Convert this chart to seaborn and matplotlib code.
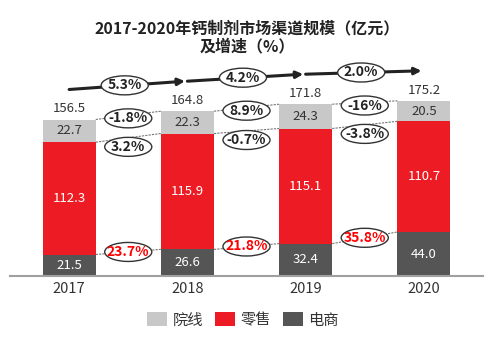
import matplotlib
matplotlib.use("Agg")
import matplotlib.pyplot as plt
from matplotlib.patches import Ellipse, Patch
import seaborn as sns
import pandas as pd

years = ['2017', '2018', '2019', '2020']
dianshang = [21.5, 26.6, 32.4, 44.0]     # 电商
lingshou = [112.3, 115.9, 115.1, 110.7]  # 零售
yuanxian = [22.7, 22.3, 24.3, 20.5]      # 院线
totals = [156.5, 164.8, 171.8, 175.2]
g_yuanxian = ['-1.8%', '8.9%', '-16%']
g_lingshou = ['3.2%', '-0.7%', '-3.8%']
g_dianshang = ['23.7%', '21.8%', '35.8%']
g_total = ['5.3%', '4.2%', '2.0%']
legend_labels = ['院线', '零售', '电商']
title = '2017-2020年钙制剂市场渠道规模（亿元）\n及增速（%）'

C_LIGHT = '#C8C8C8'
C_RED = '#ED1C24'
C_DARK = '#555555'
TXT = '#333333'

sns.set_theme(style='white')
plt.rcParams['font.family'] = ['Noto Sans CJK SC', 'DejaVu Sans']

fig = plt.figure(figsize=(5.0, 3.44), dpi=100)
ax = fig.add_axes([10/500, 1-276/344, 473/500, 210/344])

df = pd.DataFrame({'year': years, 'ds': dianshang, 'ls': lingshou, 'yx': yuanxian, 'tot': totals})
df['ds_ls'] = df['ds'] + df['ls']
df['top'] = df['ds_ls'] + df['yx']

BW = 0.45
sns.barplot(data=df, x='year', y='top', color=C_LIGHT, width=BW, saturation=1, ax=ax, linewidth=0)
sns.barplot(data=df, x='year', y='ds_ls', color=C_RED, width=BW, saturation=1, ax=ax, linewidth=0)
sns.barplot(data=df, x='year', y='ds', color=C_DARK, width=BW, saturation=1, ax=ax, linewidth=0)

ax.set_xlim(-0.5, 3.5)
ax.set_ylim(0, 210)
ax.set_xlabel('')
ax.set_ylabel('')
ax.set_yticks([])
ax.tick_params(axis='x', length=0, labelsize=10.5, labelcolor=TXT, pad=4)
for s in ['top', 'right', 'left']:
    ax.spines[s].set_visible(False)
ax.spines['bottom'].set_color('#A0A0A0')
ax.spines['bottom'].set_linewidth(1.5)

# segment labels
for i in range(len(years)):
    ds, ls, yx = dianshang[i], lingshou[i], yuanxian[i]
    ax.text(i, ds/2, f'{ds:.1f}', ha='center', va='center', color='white', fontsize=9.5)
    ax.text(i, ds + ls/2, f'{ls:.1f}', ha='center', va='center', color='white', fontsize=9.5)
    ax.text(i, ds + ls + yx/2, f'{yx:.1f}', ha='center', va='center', color=TXT, fontsize=9.5)
    ax.text(i, totals[i] + 4, f'{totals[i]:.1f}', ha='center', va='bottom', color=TXT, fontsize=9.5)

tops = {
    'yx': list(df['top']),
    'ls': list(df['ds_ls']),
    'ds': list(df['ds']),
}
EW = 47/118
EH = 19

def ellipse_label(x, y, s, color='#222222'):
    e = Ellipse((x, y), EW, EH, facecolor='white', edgecolor='#333333', lw=1.0, zorder=5, clip_on=False)
    ax.add_patch(e)
    ax.text(x, y, s, ha='center', va='center', fontsize=10, fontweight='bold', color=color, zorder=6)

series = [('yx', g_yuanxian, -3, '#222222'), ('ls', g_lingshou, -9, '#222222'), ('ds', g_dianshang, 0, '#FF0000')]
for key, labels, off, col in series:
    t = tops[key]
    for i in range(3):
        x0, x1 = i + BW/2, i + 1 - BW/2
        ax.plot([x0, x1], [t[i], t[i+1]], color='#777777', lw=0.8, ls=(0, (2, 1)), zorder=3)
        ellipse_label(i + 0.5, (t[i] + t[i+1]) / 2 + off, labels[i], col)

# total growth arrows
for i in range(3):
    ax.annotate('', xy=(i + 0.98, totals[i+1] + 30), xytext=(i, totals[i] + 30),
                arrowprops=dict(arrowstyle='-|>', lw=2.2, color='#222222', mutation_scale=10,
                                shrinkA=0, shrinkB=0), annotation_clip=False)
    ellipse_label(i + 0.47, (totals[i] + totals[i+1]) / 2 + 30, g_total[i])

fig.text(0.494, 1 - 37/344, title, ha='center', va='center', fontsize=11.5,
         fontweight='bold', color='#222222', linespacing=1.15)

handles = [Patch(facecolor=C_LIGHT, edgecolor='none'),
           Patch(facecolor=C_RED, edgecolor='none'),
           Patch(facecolor=C_DARK, edgecolor='none')]
fig.legend(handles, legend_labels, loc='center', bbox_to_anchor=(0.486, 1 - 320/344), ncol=3,
           frameon=False, fontsize=11, handlelength=1.3, handleheight=1.0, handletextpad=0.35,
           columnspacing=0.8, labelcolor=TXT)

fig.savefig('out.png', dpi=100)
